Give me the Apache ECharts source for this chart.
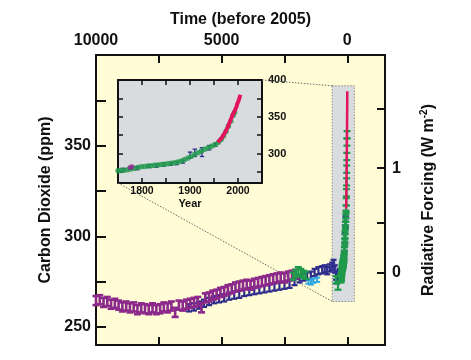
<!DOCTYPE html>
<html>
<head>
<meta charset="utf-8">
<script src="https://cdn.jsdelivr.net/npm/echarts@6/dist/echarts.min.js"></script>
<style>html,body{margin:0;padding:0;background:#fff}#c{width:471px;height:360px}</style>
</head>
<body>
<div id="c"></div>
<script>
// ---------------- DATA ----------------
// Main panel tick values
const timeTicks = [0, 2500, 5000, 7500, 10000];
const timeLabels = [0, 5000, 10000];
const co2Ticks = [250, 275, 300, 325, 350, 375];
const co2Labels = [250, 300, 350];
const forcingTicks = [0, 0.5, 1, 1.5];
const forcingLabels = [0, 1];
// Inset tick values
const insetYearTicks = [1800, 1850, 1900, 1950, 2000];
const insetYearLabels = [1800, 1900, 2000];
const insetCo2Ticks = [275, 300, 325, 350, 375];
const insetCo2Labels = [300, 350, 400];

// Long ice-core record (years before 2005)
const purpleT = [10000, 9850, 9700, 9550, 9400, 9250, 9100, 8950, 8800, 8650, 8500, 8350, 8200, 8050, 7900, 7750, 7600, 7450, 7300, 7150, 7000, 6850, 6700, 6550, 6400, 6250, 6100, 5950, 5800, 5650, 5500, 5350, 5200, 5050, 4900, 4750, 4600, 4450, 4300, 4150, 4000, 3850, 3700, 3550, 3400, 3250, 3100, 2950, 2800, 2650, 2500, 2350, 2200, 2050];
const purpleCO2 = [264.5, 265, 263.5, 264, 262.5, 263, 262, 261, 261.5, 260.5, 261, 259.5, 260.5, 260, 259.5, 260.5, 259.5, 260, 261, 260.5, 261.5, 258, 262, 261.5, 262.5, 263, 263.5, 264, 260.5, 266, 266.5, 267.5, 268, 269, 269.5, 270.5, 271, 272, 272.5, 273, 273.5, 273, 274, 274.5, 275, 275.5, 276, 276.5, 277, 277.5, 277, 278, 278.5, 279];

const navyT = [6300, 6100, 5900, 5700, 5500, 5300, 5100, 4900, 4700, 4500, 4300, 4100, 3900, 3700, 3500, 3300, 3100, 2900, 2700, 2500, 2300, 2100, 1900, 1750, 1600, 1450, 1300, 1150, 1000, 900, 800, 700, 600, 550, 500, 450, 400, 350, 300];
const navyCO2 = [260.5, 261, 262, 263, 264, 265, 265.5, 266, 267, 267.5, 268, 269, 269.5, 270, 270.5, 271, 271.5, 272, 272.5, 273, 273.5, 275, 276.5, 277.5, 278, 278.5, 280, 281, 281.5, 282, 281, 282.5, 283.5, 285, 282, 278, 276, 279, 280];

const greenT = [2150, 2050, 1950, 1850, 1750, 1650, 450, 370];
const greenCO2 = [278, 279.5, 281, 280, 279, 278.5, 276, 272.5];

const cyanT = [1550, 1450, 1350, 1200];
const cyanCO2 = [275, 274.5, 275.5, 276];

// Recent record (calendar years)
const lawYear = [1750, 1756, 1763, 1770, 1777, 1784, 1791, 1798, 1805, 1812, 1819, 1826, 1833, 1840, 1847, 1854, 1861, 1868, 1875, 1882, 1889, 1896, 1903, 1910, 1917, 1924, 1931, 1938, 1945, 1952, 1959, 1965, 1970, 1975, 1980, 1985, 1990, 1993];
const lawCO2 = [276.5, 277, 277.5, 278, 279, 280, 281, 282, 282.5, 283, 283.5, 284, 284.5, 285, 285.5, 286, 287, 287.5, 288.5, 290, 292, 294, 296.5, 299, 301, 303.5, 306, 308, 310, 312, 315, 319, 324, 330, 337, 344, 352, 356];

const sipleYear = [1760, 1790, 1815, 1830, 1845, 1860, 1872, 1885, 1900, 1910, 1925, 1940, 1953];
const sipleCO2 = [278, 280, 283, 283.5, 285, 286, 287, 289, 298, 301, 302, 308, 312];
const sipleErr = [2, 2, 2, 2, 2, 2, 2, 2, 4, 5, 6, 3, 2];

const otherYear = [1775, 1779];
const otherCO2 = [281, 282];

const maunaYear = [1958, 1959, 1960, 1961, 1962, 1963, 1964, 1965, 1966, 1967, 1968, 1969, 1970, 1971, 1972, 1973, 1974, 1975, 1976, 1977, 1978, 1979, 1980, 1981, 1982, 1983, 1984, 1985, 1986, 1987, 1988, 1989, 1990, 1991, 1992, 1993, 1994, 1995, 1996, 1997, 1998, 1999, 2000, 2001, 2002, 2003, 2004, 2005];
const maunaCO2 = [315.3, 315.97, 316.91, 317.64, 318.45, 318.99, 319.62, 320.04, 321.37, 322.18, 323.05, 324.62, 325.68, 326.32, 327.46, 329.68, 330.19, 331.12, 332.03, 333.84, 335.41, 336.84, 338.76, 340.12, 341.48, 343.15, 344.85, 346.35, 347.61, 349.31, 351.69, 353.2, 354.45, 355.7, 356.54, 357.21, 358.96, 360.97, 362.74, 363.88, 366.84, 368.54, 369.71, 371.32, 373.45, 375.98, 377.7, 379.98];

// Highlighted region in main panel (years before 2005, ppm)
const boxT = [600, -280];
const boxCO2 = [264, 383];

// ---------------- HELPERS ----------------
const REF_YEAR = 2005;
const C0 = 280;
const forcingToPpm = f => C0 * Math.exp(f / 5.35);
const ppmToForcing = c => 5.35 * Math.log(c / C0);
const FONT = "'Liberation Sans', Arial, Helvetica, sans-serif";

const zip3 = (a, b, e) => a.map((v, i) => [v, b[i], Array.isArray(e) ? e[i] : e]);
const toBefore = years => years.map(y => REF_YEAR - y);

function errRender(capHalf, lw) {
  return function (params, api) {
    const x = api.value(0), y = api.value(1), e = api.value(2);
    const t = api.coord([x, y + e]), b = api.coord([x, y - e]);
    const c = api.visual('color');
    const st = { stroke: c, lineWidth: lw };
    return {
      type: 'group',
      children: [
        { type: 'line', shape: { x1: t[0], y1: t[1], x2: b[0], y2: b[1] }, style: st },
        { type: 'line', shape: { x1: t[0] - capHalf, y1: t[1], x2: t[0] + capHalf, y2: t[1] }, style: st },
        { type: 'line', shape: { x1: b[0] - capHalf, y1: b[1], x2: b[0] + capHalf, y2: b[1] }, style: st }
      ]
    };
  };
}

const C_PURPLE = '#8C2A8C', C_NAVY = '#2E2C8C', C_GREEN = '#1F9A4B', C_CYAN = '#33A8DE', C_RED = '#E3145E';
const axisLineStyle = { color: '#111', width: 2 };
const bold = { fontFamily: FONT, fontWeight: 'bold', color: '#111' };
const plain = v => String(v);

const chart = echarts.init(document.getElementById('c'), null, { renderer: 'canvas' });

const option = {
  animation: false,
  backgroundColor: '#fff',
  grid: [
    { left: 96, top: 55, width: 289, height: 290, show: true, backgroundColor: '#FFFCD6', borderWidth: 0 },
    { left: 118, top: 80, width: 144, height: 103, show: true, backgroundColor: '#D9DCDF', borderWidth: 0 }
  ],
  xAxis: [
    { gridIndex: 0, type: 'value', position: 'top', inverse: true, min: -1500, max: 10000,
      name: 'Time (before 2005)', nameLocation: 'middle', nameGap: 27,
      nameTextStyle: Object.assign({ fontSize: 16 }, bold),
      axisLine: { show: true, onZero: false, lineStyle: axisLineStyle },
      axisTick: { show: true, inside: true, length: 8, customValues: timeTicks, lineStyle: { color: '#111', width: 2 } },
      axisLabel: { customValues: timeLabels, formatter: plain, margin: 6, fontSize: 16, fontFamily: FONT, fontWeight: 'bold', color: '#111' },
      splitLine: { show: false } },
    { gridIndex: 0, type: 'value', position: 'bottom', inverse: true, min: -1500, max: 10000,
      axisLine: { show: true, onZero: false, lineStyle: axisLineStyle },
      axisTick: { show: true, inside: true, length: 8, customValues: timeTicks, lineStyle: { color: '#111', width: 2 } },
      axisLabel: { show: false }, splitLine: { show: false } },
    { gridIndex: 1, type: 'value', position: 'bottom', min: 1750, max: 2050,
      name: 'Year', nameLocation: 'middle', nameGap: 15,
      nameTextStyle: Object.assign({ fontSize: 11 }, bold),
      axisLine: { show: true, onZero: false, lineStyle: axisLineStyle },
      axisTick: { show: true, inside: true, length: 5, customValues: insetYearTicks, lineStyle: { color: '#111', width: 1.5 } },
      axisLabel: { customValues: insetYearLabels, formatter: plain, margin: 3, fontSize: 10.5, fontFamily: FONT, fontWeight: 'bold', color: '#111' },
      splitLine: { show: false } },
    { gridIndex: 1, type: 'value', position: 'top', min: 1750, max: 2050,
      axisLine: { show: true, onZero: false, lineStyle: axisLineStyle },
      axisTick: { show: true, inside: true, length: 5, customValues: insetYearTicks, lineStyle: { color: '#111', width: 1.5 } },
      axisLabel: { show: false }, splitLine: { show: false } }
  ],
  yAxis: [
    { gridIndex: 0, type: 'value', position: 'left', min: 240, max: 400,
      name: 'Carbon Dioxide (ppm)', nameLocation: 'middle', nameGap: 42, nameRotate: 90,
      nameTextStyle: Object.assign({ fontSize: 16 }, bold),
      axisLine: { show: true, onZero: false, lineStyle: axisLineStyle },
      axisTick: { show: true, inside: true, length: 10, customValues: co2Ticks, lineStyle: { color: '#111', width: 2 } },
      axisLabel: { customValues: co2Labels, formatter: plain, margin: 5, fontSize: 16, fontFamily: FONT, fontWeight: 'bold', color: '#111' },
      splitLine: { show: false } },
    { gridIndex: 0, type: 'value', position: 'right', min: 240, max: 400,
      name: 'Radiative Forcing (W m{sup|-2})', nameLocation: 'middle', nameGap: 34, nameRotate: 90,
      nameTextStyle: Object.assign({ fontSize: 16, rich: { sup: { fontSize: 10, fontFamily: FONT, fontWeight: 'bold', color: '#111', padding: [0, 0, 9, 0] } } }, bold),
      axisLine: { show: true, onZero: false, lineStyle: axisLineStyle },
      axisTick: { show: true, inside: true, length: 8, customValues: forcingTicks.map(forcingToPpm), lineStyle: { color: '#111', width: 2 } },
      axisLabel: { customValues: forcingLabels.map(forcingToPpm), margin: 7, fontSize: 16, fontFamily: FONT, fontWeight: 'bold', color: '#111',
        formatter: v => String(Math.round(ppmToForcing(v) * 10) / 10) },
      splitLine: { show: false } },
    { gridIndex: 1, type: 'value', position: 'left', min: 260, max: 400,
      axisLine: { show: true, onZero: false, lineStyle: axisLineStyle },
      axisTick: { show: true, inside: true, length: 5, customValues: insetCo2Ticks, lineStyle: { color: '#111', width: 1.5 } },
      axisLabel: { show: false }, splitLine: { show: false } },
    { gridIndex: 1, type: 'value', position: 'right', min: 260, max: 400,
      axisLine: { show: true, onZero: false, lineStyle: axisLineStyle },
      axisTick: { show: true, inside: true, length: 5, customValues: insetCo2Ticks, lineStyle: { color: '#111', width: 1.5 } },
      axisLabel: { customValues: insetCo2Labels, formatter: plain, margin: 6, fontSize: 11, fontFamily: FONT, fontWeight: 'bold', color: '#111' },
      splitLine: { show: false } }
  ],
  series: [
    { type: 'line', xAxisIndex: 0, yAxisIndex: 0, data: [[0, 300]], symbol: 'none', lineStyle: { opacity: 0 }, silent: true,
      markArea: { silent: true, itemStyle: { color: '#D9DCDF', borderColor: '#8a8a8a', borderWidth: 1, borderType: [1.5, 1.5] },
        data: [[{ xAxis: boxT[0], yAxis: boxCO2[1] }, { xAxis: boxT[1], yAxis: boxCO2[0] }]] } },
    { type: 'custom', xAxisIndex: 0, yAxisIndex: 0, color: C_NAVY, renderItem: errRender(3, 2.2), encode: { x: 0, y: 1 },
      data: zip3(navyT, navyCO2, 2).concat(zip3(toBefore(sipleYear), sipleCO2, sipleErr)) },
    { type: 'custom', xAxisIndex: 0, yAxisIndex: 0, color: C_PURPLE, renderItem: errRender(3.5, 2.6), encode: { x: 0, y: 1 },
      data: zip3(purpleT, purpleCO2, 2.5) },
    { type: 'custom', xAxisIndex: 0, yAxisIndex: 0, color: C_CYAN, renderItem: errRender(3, 2), encode: { x: 0, y: 1 },
      data: zip3(cyanT, cyanCO2, 1.2) },
    { type: 'custom', xAxisIndex: 0, yAxisIndex: 0, color: C_GREEN, renderItem: errRender(3.5, 2.2), encode: { x: 0, y: 1 },
      data: zip3(greenT, greenCO2, 2).concat(zip3(toBefore(lawYear), lawCO2, 2)) },
    { type: 'line', xAxisIndex: 0, yAxisIndex: 0, symbol: 'none', color: C_RED, lineStyle: { width: 2.5, color: C_RED },
      data: toBefore(maunaYear).map((t, i) => [t, maunaCO2[i]]) },
    // inset
    { type: 'scatter', xAxisIndex: 2, yAxisIndex: 2, symbol: 'circle', symbolSize: 5.5, itemStyle: { color: C_GREEN },
      data: lawYear.map((y, i) => [y, lawCO2[i]]) },
    { type: 'custom', xAxisIndex: 2, yAxisIndex: 2, color: C_NAVY, renderItem: errRender(2.2, 1.3), encode: { x: 0, y: 1 },
      data: zip3(sipleYear, sipleCO2, sipleErr) },
    { type: 'scatter', xAxisIndex: 2, yAxisIndex: 2, symbol: 'circle', symbolSize: 5, itemStyle: { color: C_PURPLE },
      data: otherYear.map((y, i) => [y, otherCO2[i]]) },
    { type: 'line', xAxisIndex: 2, yAxisIndex: 2, symbol: 'none', color: C_RED, lineStyle: { width: 4, color: C_RED },
      data: maunaYear.map((y, i) => [y, maunaCO2[i]]) }
  ]
};
chart.setOption(option);

// dotted connectors from inset to highlighted box
const insTR = chart.convertToPixel({ xAxisIndex: 2, yAxisIndex: 2 }, [2050, 400]);
const insBL = chart.convertToPixel({ xAxisIndex: 2, yAxisIndex: 2 }, [1750, 260]);
const boxTL = chart.convertToPixel({ xAxisIndex: 0, yAxisIndex: 0 }, [boxT[0], boxCO2[1]]);
const boxBL = chart.convertToPixel({ xAxisIndex: 0, yAxisIndex: 0 }, [boxT[0], boxCO2[0]]);
const dotted = { stroke: '#6d6d6d', lineWidth: 1, lineDash: [1.5, 1.5], fill: null };
chart.setOption({
  graphic: [
    { type: 'line', z: 1, silent: true, shape: { x1: insTR[0], y1: insTR[1], x2: boxTL[0], y2: boxTL[1] }, style: dotted },
    { type: 'line', z: 1, silent: true, shape: { x1: insBL[0], y1: insBL[1], x2: boxBL[0], y2: boxBL[1] }, style: dotted }
  ]
});
</script>
</body>
</html>
